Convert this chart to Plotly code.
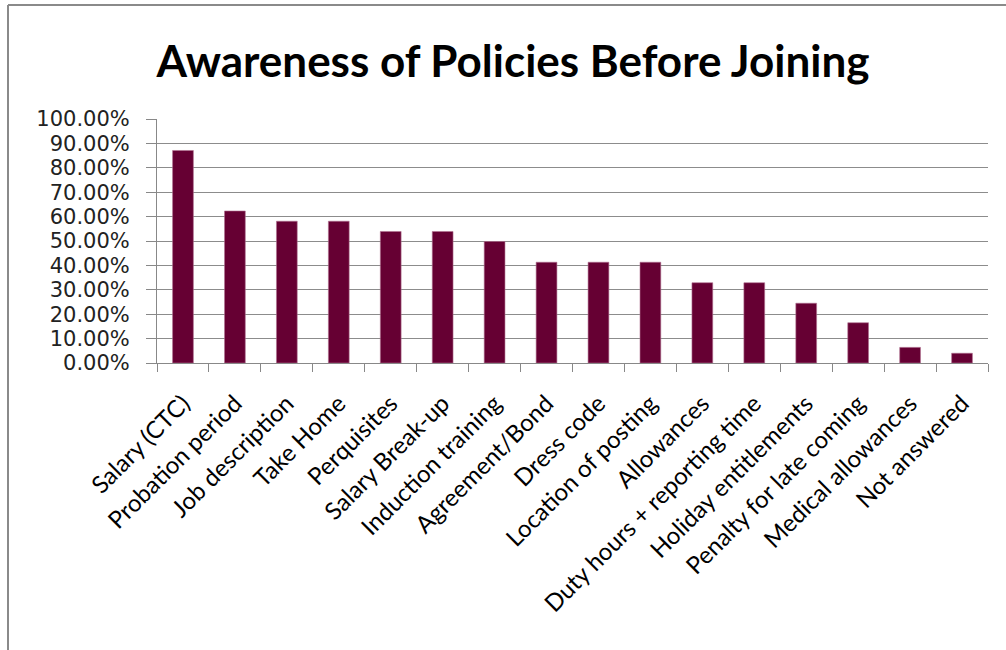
import plotly.graph_objects as go

categories = ["Salary (CTC)", "Probation period", "Job description", "Take Home",
              "Perquisites", "Salary Break-up", "Induction training", "Agreement/Bond",
              "Dress code", "Location of posting", "Allowances",
              "Duty hours + reporting time", "Holiday entitlements",
              "Penalty for late coming", "Medical allowances", "Not answered"]
values = [0.871, 0.623, 0.581, 0.581, 0.539, 0.539, 0.498, 0.413,
          0.413, 0.413, 0.329, 0.329, 0.245, 0.165, 0.064, 0.040]
y_ticks = [i / 10 for i in range(11)]

W, H = 1006, 650
L, R, T, B = 157, 18, 119, 287

fig = go.Figure(go.Bar(
    x=categories, y=values,
    marker=dict(color="#660033", line=dict(color="#b07090", width=0.6)),
    width=0.4,
))

def px_x(p):
    return (p - L) / (W - L - R)

def px_y(p):
    return 1 - (p - T) / (H - T - B)

fig.update_layout(
    width=W, height=H,
    margin=dict(l=L, r=R, t=T, b=B),
    paper_bgcolor="white", plot_bgcolor="white",
    showlegend=False,
    title=dict(text="<b>Awareness of Policies Before Joining</b>",
               x=513 / W, xanchor="center", y=1 - 62 / H, yanchor="middle",
               font=dict(family="Lato", size=44, color="black")),
    xaxis=dict(
        type="category", tickangle=-45, tickson="boundaries",
        ticks="outside", ticklen=8, tickcolor="#888888",
        ticklabelstandoff=16,
        showline=True, linecolor="#888888", linewidth=1,
        showgrid=False,
        tickfont=dict(family="Lato", size=24, color="black"),
    ),
    yaxis=dict(
        range=[0, 1], tickvals=y_ticks, tickformat=".2%",
        ticks="outside", ticklen=10, tickcolor="#888888",
        ticklabelstandoff=12,
        showline=True, linecolor="#888888", linewidth=1,
        showgrid=True, gridcolor="#8c8c8c", gridwidth=1,
        zeroline=False,
        tickfont=dict(family="DejaVu Sans", size=21, color="#222222"),
    ),
    shapes=[
        dict(type="line", xref="paper", yref="paper",
             x0=px_x(8), x1=px_x(1006), y0=px_y(5), y1=px_y(5),
             line=dict(color="#8a8a8a", width=2)),
        dict(type="line", xref="paper", yref="paper",
             x0=px_x(8), x1=px_x(8), y0=px_y(5), y1=px_y(650),
             line=dict(color="#8a8a8a", width=2)),
    ],
)

fig.write_html("out.html", config={"displayModeBar": False},
               post_script="document.body.style.margin='0';")
